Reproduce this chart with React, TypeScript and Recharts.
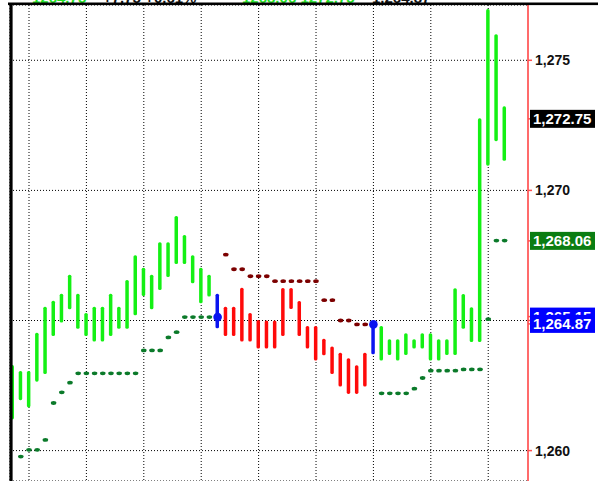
import React from 'react';
import {
  ComposedChart,
  Bar,
  Scatter,
  XAxis,
  YAxis,
  CartesianGrid,
} from 'recharts';

// ---- data ----
const highs = [
  1263.29, 1263.06, 1263.06, 1264.53, 1265.53, 1265.76, 1266.03, 1266.76, 1266.03, 1265.29,
  1265.53, 1265.53, 1266.03, 1265.53, 1266.56, 1267.51, 1267.03, 1266.76, 1268.01, 1268.01,
  1269.02, 1268.29, 1267.51, 1267.03, 1266.76, 1266.03, 1265.53, 1265.53, 1266.26, 1265.29,
  1265.02, 1265.0, 1265.0, 1266.25, 1266.25, 1265.75, 1264.79, 1264.79, 1264.3, 1264.0,
  1263.76, 1263.55, 1263.28, 1263.76, 1264.95, 1264.79, 1264.28, 1264.28, 1264.51, 1264.28,
  1264.51, 1264.51, 1264.28, 1264.28, 1266.24, 1266.02, 1265.51, 1272.77, 1276.97, 1276.0,
  1273.23,
];
const lows = [
  1261.2, 1261.94, 1261.66, 1262.65, 1262.94, 1264.4, 1264.92, 1265.43, 1264.68, 1264.4,
  1264.19, 1264.19, 1264.4, 1264.68, 1264.68, 1265.2, 1265.94, 1265.43, 1266.17, 1266.67,
  1267.17, 1267.17, 1266.43, 1265.66, 1265.92, 1264.7, 1264.4, 1264.4, 1264.19, 1264.19,
  1263.92, 1263.92, 1263.92, 1264.4, 1265.44, 1264.4, 1263.92, 1263.46, 1263.66, 1262.94,
  1262.46, 1262.18, 1262.18, 1262.46, 1263.7, 1263.46, 1263.67, 1263.46, 1263.67, 1263.92,
  1263.92, 1263.46, 1263.46, 1263.67, 1263.67, 1264.68, 1264.17, 1264.17, 1270.95, 1271.89,
  1271.14,
];
// U = uptrend bar, D = downtrend bar, R = reversal bar
const trend = [
  'U', 'U', 'U', 'U', 'U', 'U', 'U', 'U', 'U', 'U',
  'U', 'U', 'U', 'U', 'U', 'U', 'U', 'U', 'U', 'U',
  'U', 'U', 'U', 'U', 'U', 'R', 'D', 'D', 'D', 'D',
  'D', 'D', 'D', 'D', 'D', 'D', 'D', 'D', 'D', 'D',
  'D', 'D', 'D', 'D', 'R', 'U', 'U', 'U', 'U', 'U',
  'U', 'U', 'U', 'U', 'U', 'U', 'U', 'U', 'U', 'U',
  'U',
];
const sarLong = [
  null, 1259.77, 1260.03, 1260.03, 1260.41, 1261.83, 1262.24, 1262.61, 1262.97, 1262.97,
  1262.97, 1262.97, 1262.97, 1262.97, 1262.97, 1262.97, 1263.85, 1263.85, 1263.85, 1264.35,
  1264.55, 1265.13, 1265.13, 1265.13, 1265.13, null, null, null, null, null,
  null, null, null, null, null, null, null, null, null, null,
  null, null, null, null, null, 1262.2, 1262.2, 1262.2, 1262.2, 1262.38,
  1262.79, 1263.07, 1263.07, 1263.07, 1263.07, 1263.12, 1263.12, 1263.12, 1265.05, 1268.07,
  1268.07,
];
const sarShort = [
  null, null, null, null, null, null, null, null, null, null,
  null, null, null, null, null, null, null, null, null, null,
  null, null, null, null, null, null, 1267.53, 1266.97, 1266.97, 1266.7,
  1266.7, 1266.7, 1266.51, 1266.51, 1266.51, 1266.51, 1266.51, 1266.51, 1265.78, 1265.78,
  1265.0, 1265.0, 1264.85, 1264.85, null, null, null, null, null, null,
  null, null, null, null, null, null, null, null, null, null,
  null,
];
const reversalBars = [25, 44];
const reversalLevels = [1265.13, 1264.85];
const gridBars = [2, 9, 16, 23, 30, 37, 44, 51, 58];
const priceTicks = [1260, 1265, 1270, 1275];
const flagValues = [1265.15, 1272.75, 1268.06, 1264.87];
const flagKinds = ['sar2', 'last', 'sar', 'sar2'];
const headerTexts = ['1264.75', '+7.75 +0.61%', '1268.06 1272.75', '1,264.87'];

// ---- derived tables ----
const barData = highs.map((h, i) => ({ i, range: [lows[i], h], trend: trend[i] }));
const longData = sarLong.map((v, i) => ({ i, v })).filter((d) => d.v != null);
const shortData = sarShort.map((v, i) => ({ i, v })).filter((d) => d.v != null);
const revData = reversalBars.map((i, k) => ({ i, v: reversalLevels[k] }));

const GREEN = '#14f014';
const RED = '#ff0a0a';
const BLUE = '#0a14f0';
const trendColor: Record<string, string> = { U: GREEN, D: RED, R: BLUE };
const flagColor: Record<string, string> = { last: '#000000', sar: '#0b7d12', sar2: '#0000ff' };

const FONT = '"Liberation Sans", Arial, sans-serif';
const Y_DOMAIN: [number, number] = [1258.832, 1277.125];
const X_DOMAIN: [number, number] = [-0.317, 62.85];

const fmt0 = (v: number) => v.toLocaleString('en-US');
const fmt2 = (v: number) =>
  v.toLocaleString('en-US', { minimumFractionDigits: 2, maximumFractionDigits: 2 });

const RangeBar = (props: any) => {
  const { x, y, width, height, payload } = props;
  if (x == null || y == null) return null;
  return (
    <rect
      x={x}
      y={y}
      width={width}
      height={Math.max(height, 1)}
      rx={1.6}
      fill={trendColor[payload.trend]}
    />
  );
};

const LongDot = (props: any) => (
  <ellipse cx={props.cx} cy={props.cy} rx={2.8} ry={1.9} fill="#0b7a2a" />
);
const ShortDot = (props: any) => (
  <ellipse cx={props.cx} cy={props.cy} rx={2.8} ry={1.9} fill="#7c0000" />
);
const RevDot = (props: any) => <circle cx={props.cx} cy={props.cy} r={4.3} fill={BLUE} />;

const PriceTick = (props: any) => {
  const { x, y, payload } = props;
  const v = payload.value as number;
  const k = flagValues.indexOf(v);
  if (k >= 0) {
    return (
      <g>
        <rect x={x - 5} y={y - 9} width={65} height={18} fill={flagColor[flagKinds[k]]} />
        <text
          x={x - 2}
          y={y}
          dy="0.36em"
          fill="#ffffff"
          fontFamily={FONT}
          fontWeight="bold"
          fontSize={15}
        >
          {fmt2(v)}
        </text>
      </g>
    );
  }
  return (
    <text x={x} y={y} dy="0.36em" fill="#111" fontFamily={FONT} fontWeight="bold" fontSize={14}>
      {fmt0(v)}
    </text>
  );
};

export default function App() {
  return (
    <div style={{ position: 'absolute', left: 0, top: 0, width: 598, height: 481, background: '#fff' }}>
      <ComposedChart
        width={598}
        height={481}
        data={barData}
        margin={{ top: 5, right: 0, bottom: 0, left: 10 }}
      >
        <XAxis dataKey="i" type="number" domain={X_DOMAIN} allowDataOverflow hide />
        <XAxis
          xAxisId="grid"
          dataKey="i"
          type="number"
          domain={X_DOMAIN}
          allowDataOverflow
          ticks={gridBars}
          interval={0}
          hide
        />
        <YAxis
          yAxisId="grid"
          type="number"
          domain={Y_DOMAIN}
          allowDataOverflow
          ticks={priceTicks}
          interval={0}
          hide
        />
        <YAxis
          orientation="right"
          type="number"
          domain={Y_DOMAIN}
          allowDataOverflow
          width={70}
          ticks={[...priceTicks, ...flagValues]}
          interval={0}
          tickSize={4}
          tickMargin={3}
          tickLine={{ stroke: '#ff5050', strokeWidth: 1.5 }}
          axisLine={{ stroke: '#ff6b6b', strokeWidth: 2 }}
          tick={<PriceTick />}
        />
        <CartesianGrid
          xAxisId="grid"
          yAxisId="grid"
          stroke="#000"
          strokeDasharray="1 2"
        />
        <Bar dataKey="range" barSize={3.5} shape={<RangeBar />} isAnimationActive={false} />
        <Scatter data={longData} dataKey="v" shape={<LongDot />} isAnimationActive={false} />
        <Scatter data={shortData} dataKey="v" shape={<ShortDot />} isAnimationActive={false} />
        <Scatter data={revData} dataKey="v" shape={<RevDot />} isAnimationActive={false} />
      </ComposedChart>
      <svg
        width={598}
        height={481}
        style={{ position: 'absolute', left: 0, top: 0, pointerEvents: 'none' }}
      >
        <text x={32} y={3} fill="#22dd22" fontFamily={FONT} fontWeight="bold" fontSize={15}>
          {headerTexts[0]}
        </text>
        <text x={103} y={3} fill="#111" fontFamily={FONT} fontWeight="bold" fontSize={15}>
          {headerTexts[1]}
        </text>
        <text x={242} y={3} fill="#22dd22" fontFamily={FONT} fontWeight="bold" fontSize={15}>
          {headerTexts[2]}
        </text>
        <text x={372} y={3} fill="#111" fontFamily={FONT} fontWeight="bold" fontSize={15}>
          {headerTexts[3]}
        </text>
        <rect x={8} y={2.5} width={590} height={2.6} fill="#000" />
        <rect x={9.4} y={4} width={3.2} height={477} fill="#000" />
      </svg>
    </div>
  );
}
